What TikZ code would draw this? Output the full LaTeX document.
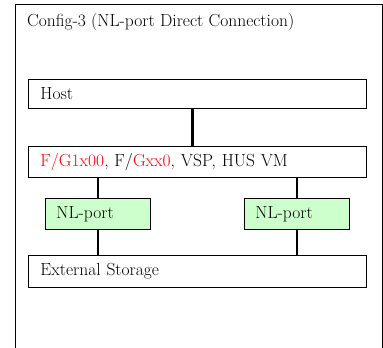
\documentclass[tikz,border=0pt]{standalone}
\usepackage{xcolor}
\usepackage{tikz}
\usetikzlibrary{positioning}
\definecolor{portgreen}{HTML}{CCFFCC}

\begin{document}
\begin{tikzpicture}[x=1pt, y=-1pt,
        every node/.style = {font=\fontsize{17.5}{20}\selectfont},
        widebox/.style = {draw, line width=0.8pt, minimum width=338pt, text width=314pt,
            inner xsep=12pt, align=left, anchor=north west},
        portbox/.style = {draw, line width=0.8pt, fill=portgreen, minimum width=105pt,
            minimum height=31pt, text width=83pt, inner xsep=11pt, align=left, anchor=north west},
        link/.style = {line width=2.4pt}]
        \useasboundingbox (0, 0) rectangle (383, 348);

        % outer frame, open at the bottom
        \draw[line width=0.8pt] (15, 350) -- (15, 4) -- (382, 4) -- (382, 350);
        \node[anchor=base west, inner sep=0pt] (title) at (27, 26) {Config-3 (NL-port Direct Connection)};

        \node[widebox, minimum height=29pt] (host) at (28, 79) {Host};
        \node[widebox, minimum height=31pt] (dev) at (28, 146)
            {\textcolor{red}{F/G1x00}, F/\textcolor{red}{Gxx0}, VSP, HUS VM};
        \node[portbox] (nl1) at (45, 198) {NL-port};
        \node[portbox] (nl2) at (244, 198) {NL-port};
        \node[widebox, minimum height=32pt] (ext) at (28, 255) {External Storage};

        \draw[link] ([xshift=-5pt]host.south) -- ([xshift=-5pt]dev.north);
        \draw[link] (dev.south -| nl1.north) -- (nl1.north);
        \draw[link] (dev.south -| nl2.north) -- (nl2.north);
        \draw[link] (nl1.south) -- (nl1.south |- ext.north);
        \draw[link] (nl2.south) -- (nl2.south |- ext.north);
    \end{tikzpicture}
\end{document}
